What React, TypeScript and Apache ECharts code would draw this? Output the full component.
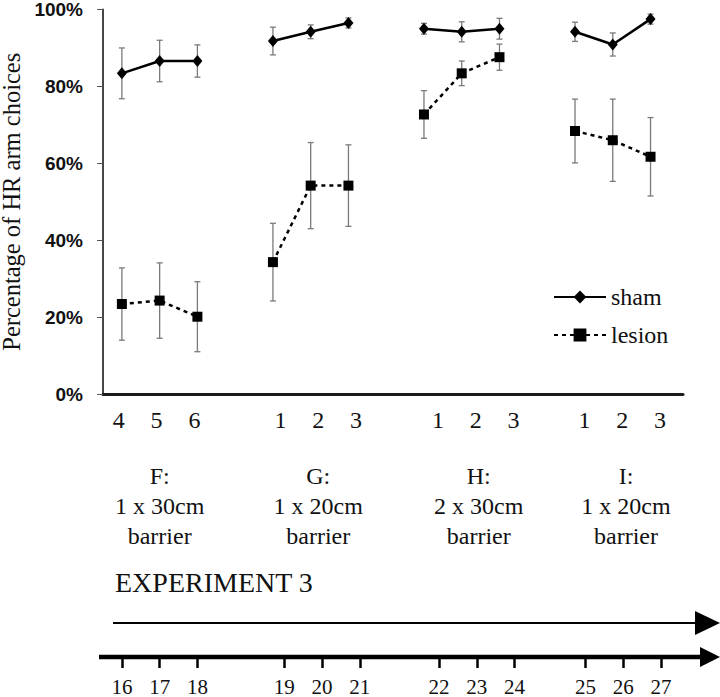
import React, { useEffect, useRef } from "react";
import * as echarts from "echarts";

// ---- data ----
const groupLabels = ["F:\n1 x 30cm\nbarrier", "G:\n1 x 20cm\nbarrier", "H:\n2 x 30cm\nbarrier", "I:\n1 x 20cm\nbarrier"];
const trialLabels = ["4", "5", "6", "1", "2", "3", "1", "2", "3", "1", "2", "3"];
const sessionLabels = ["16", "17", "18", "19", "20", "21", "22", "23", "24", "25", "26", "27"];
const shamMean = [83.4, 86.6, 86.6, 91.8, 94.2, 96.5, 95.0, 94.2, 95.0, 94.2, 90.9, 97.5];
const shamSem = [6.6, 5.4, 4.2, 3.6, 1.8, 1.3, 1.4, 2.6, 2.7, 2.5, 3.0, 1.3];
const lesionMean = [23.4, 24.3, 20.1, 34.3, 54.2, 54.2, 72.7, 83.4, 87.6, 68.4, 66.0, 61.7];
const lesionSem = [9.4, 9.8, 9.1, 10.1, 11.2, 10.6, 6.2, 3.2, 3.4, 8.3, 10.7, 10.2];
const yTickValues = [0, 20, 40, 60, 80, 100];

// ---- layout constants ----
const PER_GROUP = 3;
const SLOT_STEP = 4; // slots per group (3 points + gap)
const labelShift = [-0.08, 0.2, 0.37, 0.25];
const groupShift = [0, 0.2, 0.45, 0.35];
const sessionShift = [0, 0.3, 0.4, 0.28];
const SERIF = "Liberation Serif";

const slotOf = (i: number) => Math.floor(i / PER_GROUP) * SLOT_STEP + (i % PER_GROUP);
const trialPos = trialLabels.map((_, i) => slotOf(i) + labelShift[Math.floor(i / PER_GROUP)]);
const sessionPos = sessionLabels.map((_, i) => slotOf(i) + sessionShift[Math.floor(i / PER_GROUP)]);
const groupPos = groupLabels.map((_, g) => g * SLOT_STEP + 1 + groupShift[g]);

const lookup = (positions: number[], labels: string[]) => (v: number) => {
  const k = positions.findIndex((p) => Math.abs(p - v) < 1e-6);
  return k >= 0 ? labels[k] : "";
};

function lineData(mean: number[]) {
  const out: any[] = [];
  mean.forEach((m, i) => {
    out.push([slotOf(i), m]);
    if (i % PER_GROUP === PER_GROUP - 1 && i < mean.length - 1) out.push([slotOf(i) + 1, "-"]);
  });
  return out;
}
function errData(mean: number[], sem: number[]) {
  return mean.map((m, i) => [slotOf(i), m - sem[i], m + sem[i]]);
}

const renderErr = (params: any, api: any) => {
  const x = api.value(0);
  const lo = api.coord([x, api.value(1)]);
  const hi = api.coord([x, api.value(2)]);
  const w = 3;
  const style = { stroke: "#7a7a7a", lineWidth: 1.3 };
  return {
    type: "group",
    children: [
      { type: "line", shape: { x1: lo[0], y1: lo[1], x2: hi[0], y2: hi[1] }, style },
      { type: "line", shape: { x1: lo[0] - w, y1: lo[1], x2: lo[0] + w, y2: lo[1] }, style },
      { type: "line", shape: { x1: hi[0] - w, y1: hi[1], x2: hi[0] + w, y2: hi[1] }, style },
    ],
  };
};

export default function App() {
  const ref = useRef<HTMLDivElement>(null);
  useEffect(() => {
    document.body.style.margin = "0";
    if (!ref.current) return;
    const chart = echarts.init(ref.current, null, { renderer: "svg" });
    const xMin = -0.5;
    const xMax = 14.86;
    chart.setOption({
      animation: false,
      backgroundColor: "#ffffff",
      grid: { left: 103, right: 37, top: 9.5, bottom: 303, containLabel: false, outerBoundsMode: "none" },
      legend: {
        data: ["sham", "lesion"],
        orient: "vertical",
        left: 548,
        top: 280,
        itemWidth: 52,
        itemHeight: 16,
        itemGap: 14,
        textStyle: { fontFamily: SERIF, fontSize: 24, color: "#111" },
      },
      xAxis: [
        {
          type: "value",
          gridIndex: 0,
          position: "bottom",
          min: xMin,
          max: xMax,
          axisLine: { show: true, onZero: false, lineStyle: { color: "#1a1a1a", width: 3 } },
          axisTick: { show: false },
          splitLine: { show: false },
          axisLabel: {
            customValues: trialPos,
            formatter: lookup(trialPos, trialLabels),
            fontFamily: SERIF,
            fontSize: 24,
            color: "#111",
            margin: 14,
          },
        },
        {
          type: "value",
          gridIndex: 0,
          position: "bottom",
          offset: 0,
          min: xMin,
          max: xMax,
          axisLine: { show: false, onZero: false },
          axisTick: { show: false },
          splitLine: { show: false },
          axisLabel: {
            customValues: groupPos,
            formatter: lookup(groupPos, groupLabels),
            fontFamily: SERIF,
            fontSize: 24,
            lineHeight: 30,
            color: "#111",
            margin: 67,
          },
        },
        {
          type: "value",
          gridIndex: 0,
          position: "bottom",
          offset: 263,
          min: xMin,
          max: xMax,
          axisLine: { show: false, onZero: false },
          axisTick: {
            show: true,
            customValues: sessionPos,
            length: 11,
            lineStyle: { color: "#000", width: 2.5 },
          },
          splitLine: { show: false },
          axisLabel: {
            customValues: sessionPos,
            formatter: lookup(sessionPos, sessionLabels),
            fontFamily: SERIF,
            fontSize: 21,
            color: "#111",
            margin: 19,
          },
        },
      ],
      yAxis: {
        type: "value",
        min: yTickValues[0],
        max: yTickValues[yTickValues.length - 1],
        interval: 20,
        name: "Percentage of HR arm choices",
        nameLocation: "middle",
        nameGap: 71,
        nameTextStyle: { fontFamily: SERIF, fontSize: 24.5, color: "#111", lineHeight: 24 },
        axisLine: { show: true, onZero: false, lineStyle: { color: "#333", width: 1.8 } },
        axisTick: { show: true, length: 6, lineStyle: { color: "#555", width: 1 } },
        splitLine: { show: false },
        axisLabel: {
          formatter: "{value}%",
          fontFamily: "Liberation Sans",
          fontWeight: "bold",
          fontSize: 19,
          lineHeight: 14,
          color: "#111",
          margin: 20,
        },
      },
      series: [
        {
          type: "custom",
          renderItem: renderErr,
          data: errData(shamMean, shamSem),
          encode: { x: 0, y: [1, 2] },
          z: 1,
          silent: true,
        },
        {
          type: "custom",
          renderItem: renderErr,
          data: errData(lesionMean, lesionSem),
          encode: { x: 0, y: [1, 2] },
          z: 1,
          silent: true,
        },
        {
          name: "sham",
          type: "line",
          data: lineData(shamMean),
          connectNulls: false,
          symbol: "diamond",
          symbolSize: [10, 12],
          lineStyle: { color: "#000", width: 2.5 },
          itemStyle: { color: "#000" },
          z: 3,
        },
        {
          name: "lesion",
          type: "line",
          data: lineData(lesionMean),
          connectNulls: false,
          symbol: "rect",
          symbolSize: 10,
          lineStyle: { color: "#000", width: 2.5, type: [4, 4] },
          itemStyle: { color: "#000" },
          z: 3,
        },
      ],
      graphic: [
        {
          type: "text",
          left: 115,
          top: 568,
          style: { text: "EXPERIMENT 3", fontFamily: SERIF, fontSize: 28, fill: "#111" },
        },
        {
          type: "line",
          shape: { x1: 113, y1: 623, x2: 700, y2: 623 },
          style: { stroke: "#000", lineWidth: 2.2 },
        },
        {
          type: "polygon",
          shape: { points: [[695, 611], [720, 623], [695, 635]] },
          style: { fill: "#000" },
        },
        {
          type: "line",
          shape: { x1: 99, y1: 657, x2: 704, y2: 657 },
          style: { stroke: "#000", lineWidth: 4.5 },
        },
        {
          type: "polygon",
          shape: { points: [[700, 647], [720, 657], [700, 667]] },
          style: { fill: "#000" },
        },
      ],
    });
    return () => chart.dispose();
  }, []);
  return <div ref={ref} style={{ width: 720, height: 697 }} />;
}
